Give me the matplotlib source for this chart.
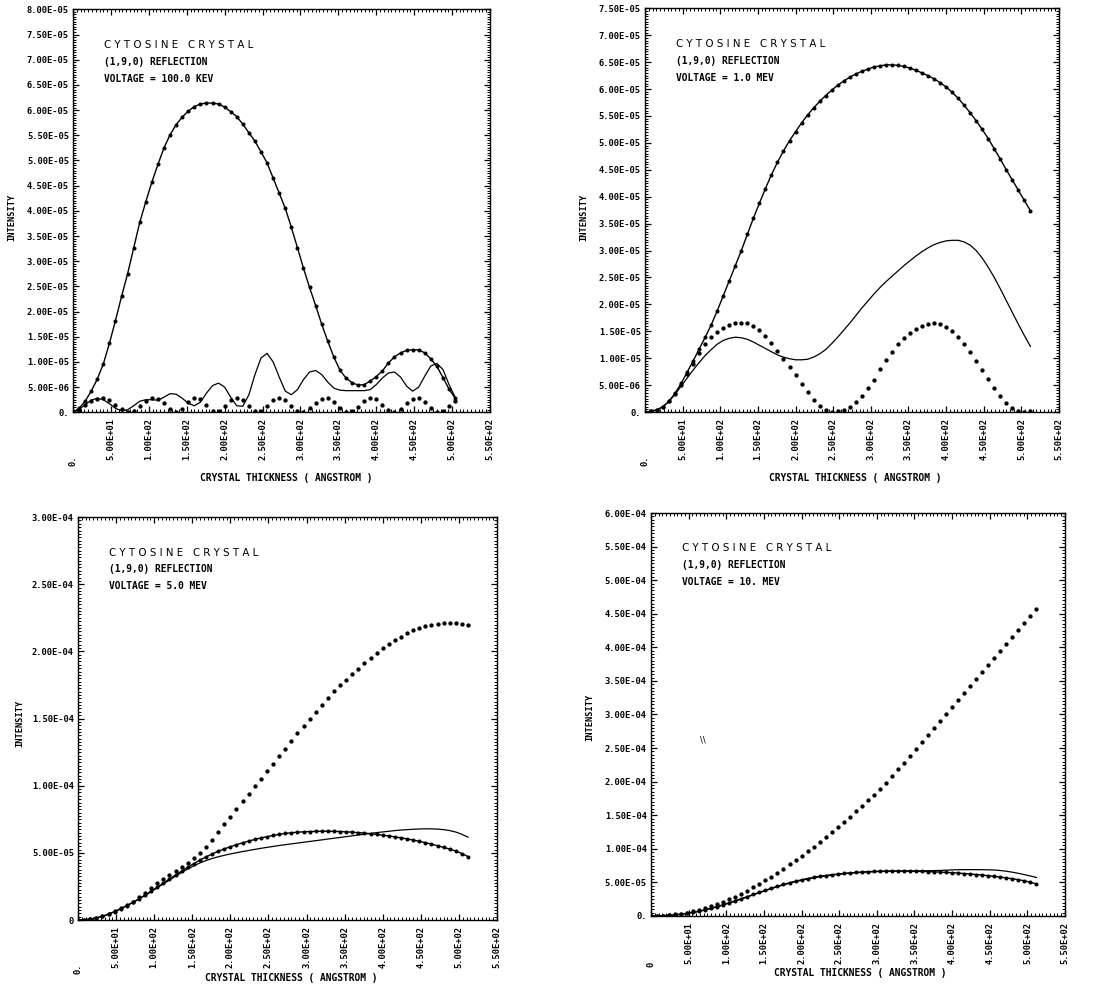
import numpy as np
import matplotlib.pyplot as plt
from matplotlib.ticker import MultipleLocator, FixedLocator, FixedFormatter
import matplotlib.transforms as mtransforms

# crystal thickness in angstrom
thick_kev = np.arange(0, 505, 8)
thick_mev = np.arange(0, 513, 8)

# intensities, in units of 1e-5
kev100_a = [0.00, 0.08, 0.22, 0.42, 0.66, 0.96, 1.37, 1.82, 2.30, 2.75,
            3.26, 3.77, 4.18, 4.57, 4.92, 5.25, 5.51, 5.71, 5.86, 5.98,
            6.07, 6.12, 6.14, 6.14, 6.12, 6.06, 5.97, 5.87, 5.72, 5.55,
            5.38, 5.17, 4.95, 4.65, 4.35, 4.05, 3.67, 3.27, 2.86, 2.48,
            2.12, 1.75, 1.41, 1.10, 0.84, 0.68, 0.59, 0.54, 0.55, 0.62,
            0.71, 0.82, 0.98, 1.10, 1.18, 1.23, 1.24, 1.24, 1.18, 1.06,
            0.91, 0.69, 0.46, 0.28]
kev100_b = [0.00, 0.06, 0.15, 0.24, 0.28, 0.25, 0.17, 0.08, 0.03, 0.05,
            0.13, 0.22, 0.25, 0.25, 0.24, 0.30, 0.37, 0.36, 0.28, 0.18,
            0.13, 0.20, 0.38, 0.53, 0.58, 0.50, 0.30, 0.13, 0.12, 0.35,
            0.75, 1.08, 1.17, 1.00, 0.70, 0.42, 0.35, 0.45, 0.65, 0.80,
            0.83, 0.75, 0.60, 0.48, 0.44, 0.43, 0.43, 0.43, 0.43, 0.45,
            0.55, 0.68, 0.78, 0.80, 0.70, 0.52, 0.42, 0.50, 0.72, 0.92,
            0.97, 0.85, 0.55, 0.30]
kev100_c = [0.00, 0.05, 0.14, 0.22, 0.27, 0.28, 0.24, 0.15, 0.06, 0.01,
            0.03, 0.12, 0.22, 0.28, 0.27, 0.18, 0.06, 0.01, 0.07, 0.20,
            0.28, 0.26, 0.14, 0.03, 0.02, 0.12, 0.24, 0.29, 0.24, 0.12,
            0.02, 0.02, 0.13, 0.25, 0.29, 0.24, 0.13, 0.03, 0.01, 0.08,
            0.19, 0.27, 0.28, 0.21, 0.09, 0.01, 0.02, 0.11, 0.23, 0.29,
            0.26, 0.15, 0.04, 0.00, 0.06, 0.18, 0.27, 0.29, 0.21, 0.09,
            0.01, 0.02, 0.12, 0.23]

mev1_a = [0.00, 0.01, 0.04, 0.10, 0.20, 0.35, 0.53, 0.74, 0.95, 1.17,
          1.39, 1.62, 1.88, 2.16, 2.44, 2.72, 3.00, 3.30, 3.60, 3.88,
          4.15, 4.41, 4.64, 4.85, 5.04, 5.21, 5.37, 5.52, 5.65, 5.77,
          5.88, 5.98, 6.07, 6.15, 6.22, 6.28, 6.33, 6.37, 6.41, 6.43,
          6.45, 6.45, 6.44, 6.42, 6.39, 6.35, 6.30, 6.25, 6.19, 6.12,
          6.04, 5.94, 5.83, 5.70, 5.56, 5.41, 5.25, 5.08, 4.89, 4.70,
          4.50, 4.31, 4.12, 3.93, 3.74]
mev1_b = [0.00, 0.01, 0.04, 0.10, 0.20, 0.33, 0.48, 0.63, 0.78, 0.92,
          1.05, 1.16, 1.26, 1.33, 1.37, 1.39, 1.38, 1.35, 1.30, 1.24,
          1.18, 1.12, 1.06, 1.02, 0.99, 0.97, 0.97, 0.98, 1.02, 1.08,
          1.16, 1.27, 1.39, 1.52, 1.65, 1.79, 1.93, 2.06, 2.19, 2.31,
          2.42, 2.52, 2.62, 2.72, 2.81, 2.90, 2.98, 3.05, 3.11, 3.15,
          3.18, 3.19, 3.19, 3.16, 3.10, 3.00, 2.86, 2.69, 2.50, 2.29,
          2.07, 1.85, 1.63, 1.42, 1.22]
mev1_c = [0.00, 0.01, 0.04, 0.10, 0.20, 0.34, 0.51, 0.70, 0.90, 1.09,
          1.26, 1.39, 1.49, 1.57, 1.62, 1.65, 1.66, 1.65, 1.60, 1.52,
          1.41, 1.28, 1.14, 0.99, 0.84, 0.68, 0.52, 0.37, 0.23, 0.12,
          0.04, 0.00, 0.01, 0.04, 0.10, 0.18, 0.30, 0.44, 0.60, 0.80,
          0.97, 1.12, 1.26, 1.37, 1.46, 1.54, 1.60, 1.64, 1.65, 1.63,
          1.58, 1.50, 1.39, 1.26, 1.11, 0.95, 0.78, 0.61, 0.44, 0.29,
          0.16, 0.07, 0.02, 0.00, 0.02]

mev5_a = [0.00, 0.02, 0.07, 0.16, 0.28, 0.44, 0.63, 0.84, 1.07, 1.32,
          1.58, 1.86, 2.15, 2.45, 2.75, 3.05, 3.35, 3.64, 3.93, 4.20,
          4.46, 4.70, 4.92, 5.12, 5.30, 5.46, 5.61, 5.75, 5.88, 6.00,
          6.11, 6.21, 6.30, 6.38, 6.45, 6.50, 6.54, 6.57, 6.59, 6.60,
          6.61, 6.61, 6.60, 6.59, 6.57, 6.54, 6.51, 6.47, 6.43, 6.38,
          6.32, 6.26, 6.19, 6.12, 6.04, 5.95, 5.86, 5.76, 5.65, 5.53,
          5.41, 5.28, 5.14, 4.95, 4.72]
mev5_b = [0.00, 0.02, 0.07, 0.16, 0.28, 0.44, 0.63, 0.84, 1.07, 1.31,
          1.56, 1.83, 2.11, 2.40, 2.69, 2.98, 3.26, 3.54, 3.80, 4.04,
          4.25, 4.43, 4.58, 4.71, 4.82, 4.92, 5.01, 5.10, 5.18, 5.26,
          5.34, 5.41, 5.48, 5.55, 5.61, 5.67, 5.73, 5.79, 5.85, 5.91,
          5.97, 6.03, 6.09, 6.15, 6.21, 6.27, 6.33, 6.39, 6.45, 6.51,
          6.56, 6.61, 6.66, 6.70, 6.73, 6.76, 6.78, 6.79, 6.79, 6.77,
          6.73, 6.66, 6.55, 6.38, 6.17]
mev5_c = [0.00, 0.02, 0.07, 0.17, 0.30, 0.47, 0.66, 0.87, 1.11, 1.37,
          1.68, 2.01, 2.38, 2.75, 3.06, 3.36, 3.67, 3.98, 4.28, 4.60,
          5.00, 5.42, 5.97, 6.56, 7.13, 7.70, 8.27, 8.84, 9.40, 9.97,
          10.53, 11.09, 11.65, 12.21, 12.77, 13.33, 13.89, 14.44, 15.00, 15.52,
          16.04, 16.56, 17.08, 17.49, 17.90, 18.31, 18.72, 19.10, 19.48, 19.86,
          20.24, 20.53, 20.82, 21.10, 21.38, 21.58, 21.76, 21.89, 21.98, 22.05,
          22.08, 22.10, 22.08, 22.04, 21.98]

mev10_a = [0.00, 0.01, 0.04, 0.09, 0.16, 0.26, 0.38, 0.53, 0.71, 0.91,
           1.14, 1.39, 1.66, 1.95, 2.25, 2.56, 2.88, 3.20, 3.52, 3.83,
           4.13, 4.42, 4.69, 4.94, 5.17, 5.38, 5.57, 5.74, 5.89, 6.02,
           6.14, 6.24, 6.33, 6.41, 6.48, 6.54, 6.59, 6.63, 6.66, 6.68,
           6.69, 6.69, 6.68, 6.67, 6.65, 6.63, 6.60, 6.57, 6.53, 6.49,
           6.44, 6.38, 6.32, 6.25, 6.17, 6.09, 6.00, 5.90, 5.79, 5.67,
           5.54, 5.40, 5.24, 5.02, 4.76]
mev10_b = [0.00, 0.01, 0.04, 0.09, 0.16, 0.26, 0.38, 0.53, 0.71, 0.91,
           1.14, 1.39, 1.66, 1.94, 2.23, 2.53, 2.84, 3.15, 3.46, 3.77,
           4.07, 4.36, 4.63, 4.88, 5.11, 5.32, 5.51, 5.68, 5.83, 5.96,
           6.08, 6.19, 6.29, 6.37, 6.44, 6.50, 6.55, 6.59, 6.62, 6.65,
           6.67, 6.69, 6.70, 6.71, 6.72, 6.73, 6.74, 6.76, 6.78, 6.82,
           6.86, 6.89, 6.90, 6.90, 6.90, 6.89, 6.87, 6.84, 6.77, 6.66,
           6.52, 6.35, 6.16, 5.95, 5.73]
mev10_c = [0.00, 0.01, 0.05, 0.12, 0.22, 0.35, 0.51, 0.70, 0.92, 1.17,
           1.45, 1.76, 2.10, 2.47, 2.87, 3.30, 3.76, 4.25, 4.77, 5.31,
           5.87, 6.45, 7.05, 7.67, 8.30, 8.95, 9.62, 10.30, 11.00, 11.72,
           12.46, 13.21, 13.98, 14.76, 15.56, 16.37, 17.20, 18.04, 18.92, 19.85,
           20.82, 21.82, 22.83, 23.85, 24.87, 25.90, 26.93, 27.96, 28.99, 30.02,
           31.05, 32.10, 33.15, 34.20, 35.25, 36.30, 37.35, 38.40, 39.45, 40.50,
           41.55, 42.60, 43.65, 44.70, 45.75]

x_ticks = np.arange(0, 551, 50)

MONO = 'DejaVu Sans Mono'


def sci(v):
    return f"{v:.2E}"


def panel(fig, rect, x, a, b, c, ymax, ystep, yminor, voltage, y0, x0):
    ax = fig.add_axes(rect)
    ax.plot(x, np.array(a) * 1e-5, color='k', lw=1.0, marker='o', ms=1.9)
    ax.plot(x, np.array(b) * 1e-5, color='k', lw=0.9)
    ax.plot(x, np.array(c) * 1e-5, color='k', ls='none', marker='o', ms=2.1)
    ax.set_xlim(0, 550)
    ax.set_ylim(0, ymax)

    yt = np.arange(0, ymax + ystep / 2, ystep)
    ax.yaxis.set_major_locator(FixedLocator(yt))
    ax.yaxis.set_major_formatter(FixedFormatter([y0] + [sci(v) for v in yt[1:]]))
    ax.yaxis.set_minor_locator(MultipleLocator(yminor))
    ax.xaxis.set_major_locator(FixedLocator(x_ticks))
    ax.xaxis.set_major_formatter(FixedFormatter([''] + [sci(v) for v in x_ticks[1:]]))
    ax.xaxis.set_minor_locator(MultipleLocator(5))

    ax.tick_params(which='both', direction='in', top=True, right=True)
    ax.tick_params(which='major', length=4.5, width=0.9)
    ax.tick_params(which='minor', length=2.5, width=0.7)
    ax.tick_params(axis='y', labelsize=6.3, pad=3)
    ax.tick_params(axis='x', labelsize=6.3, pad=4, labelrotation=90)
    for lab in ax.get_xticklabels() + ax.get_yticklabels():
        lab.set_family(MONO)
        lab.set_weight('bold')
    for s in ax.spines.values():
        s.set_linewidth(1.0)

    # the zero of the thickness axis sits lower than the other labels
    trans = mtransforms.blended_transform_factory(ax.transData, ax.transAxes)
    ax.text(0, -0.12, x0, transform=trans, rotation=90, ha='center', va='center',
            family=MONO, weight='bold', fontsize=6.3)

    ax.text(0.075, 0.912, 'C Y T O S I N E   C R Y S T A L', transform=ax.transAxes,
            fontsize=7.4, va='center', ha='left')
    ax.text(0.075, 0.870, '(1,9,0) REFLECTION', transform=ax.transAxes,
            family=MONO, weight='bold', fontsize=6.9, va='center', ha='left')
    ax.text(0.075, 0.828, 'VOLTAGE = ' + voltage, transform=ax.transAxes,
            family=MONO, weight='bold', fontsize=6.9, va='center', ha='left')
    return ax


fig = plt.figure(figsize=(10.93, 9.94), dpi=100)

panel(fig, [0.0668, 0.5852, 0.3815, 0.4054], thick_kev, kev100_a, kev100_b, kev100_c,
      8e-5, 5e-6, 5e-7, '100.0 KEV', '0.', '0.')
panel(fig, [0.5901, 0.5855, 0.3788, 0.4061], thick_mev, mev1_a, mev1_b, mev1_c,
      7.5e-5, 5e-6, 5e-7, '1.0 MEV', '0.', '0.')
panel(fig, [0.0714, 0.0744, 0.3833, 0.4054], thick_mev, mev5_a, mev5_b, mev5_c,
      3e-4, 5e-5, 2.5e-6, '5.0 MEV', '0', '0.')
ax4 = panel(fig, [0.5956, 0.0785, 0.3788, 0.4054], thick_mev, mev10_a, mev10_b, mev10_c,
            6e-4, 5e-5, 5e-6, '10. MEV', '0.', '0')
ax4.text(0.126, 0.437, '\\\\', transform=ax4.transAxes, fontsize=6, ha='center', va='center')

xlab = 'CRYSTAL THICKNESS ( ANGSTROM )'
ylab = 'INTENSITY'
for (xx, yy) in [(0.2617, 0.5191), (0.7823, 0.5191), (0.2662, 0.0161), (0.7868, 0.0211)]:
    fig.text(xx, yy, xlab, ha='center', va='center', family=MONO, weight='bold', fontsize=6.9)
for (xx, yy) in [(0.011, 0.7817), (0.5343, 0.7817), (0.0183, 0.2726), (0.5398, 0.2787)]:
    fig.text(xx, yy, ylab, ha='center', va='center', rotation=90,
             family=MONO, weight='bold', fontsize=6.2)

fig.savefig('out.png', dpi=100, facecolor='white')
